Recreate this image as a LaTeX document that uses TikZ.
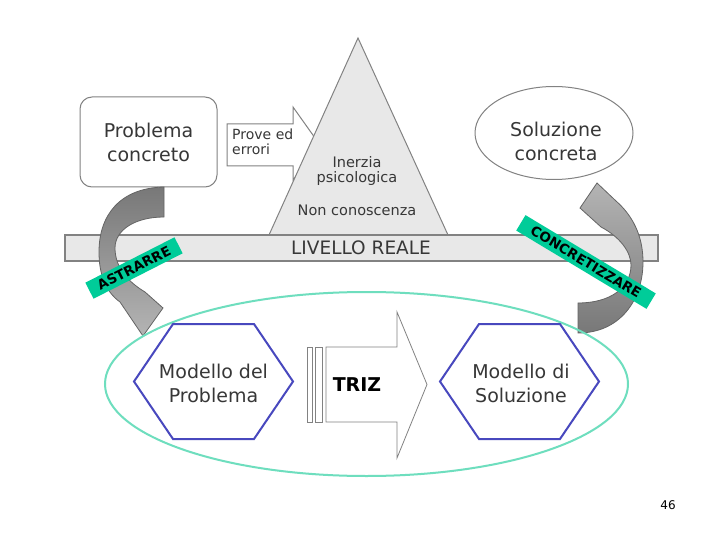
\documentclass[tikz,border=0pt]{standalone}
\usepackage{fontspec}
\setmainfont{DejaVu Sans}
\usetikzlibrary{shapes.geometric}
\definecolor{txt}{RGB}{55,55,55}
\definecolor{boxline}{RGB}{130,130,130}
\definecolor{lightfill}{RGB}{232,232,232}
\definecolor{labelgreen}{RGB}{0,204,153}
\definecolor{ellteal}{RGB}{110,222,190}
\definecolor{hexblue}{RGB}{72,72,190}
\definecolor{arrowdark}{RGB}{120,120,120}
\definecolor{arrowlight}{RGB}{180,180,180}
\definecolor{arrowline}{RGB}{100,100,100}
\begin{document}
\begin{tikzpicture}[x=1pt,y=-1pt,
  bigtext/.style={font=\fontsize{19}{24}\selectfont, text=txt, align=center, inner sep=0pt},
  midtext/.style={font=\fontsize{14.5}{15}\selectfont, text=txt, align=center, inner sep=0pt},
  greenlabel/.style={fill=labelgreen, font=\bfseries\fontsize{13.5}{14}\selectfont, text=black, inner sep=0pt, minimum height=18pt},
  hexline/.style={draw=hexblue, line width=2pt, fill=white, line join=miter},
  curvedarrow/.style={draw=arrowline, line width=0.8pt},
  grayshape/.style={draw=boxline, line width=1pt},
  thinshape/.style={draw=boxline, fill=white, line width=0.8pt}
]
\useasboundingbox[fill=white] (0,0) rectangle (720,540);

% Prove ed errori arrow
\draw[grayshape, fill=white] (227,124) -- (293,124) -- (293,107) -- (320,145) -- (293,180) -- (293,166) -- (227,166) -- cycle;
\node[anchor=north west, font=\fontsize{14}{15}\selectfont, text=txt, align=left, inner sep=0pt] (prove) at (232,129) {Prove ed\\errori};

% triangle
\draw[grayshape, fill=lightfill] (358,38) -- (448,235) -- (269,235) -- cycle;
\node[midtext] (inerzia) at (357,171) {Inerzia\\psicologica};
\node[midtext] (nonconosc) at (357,210) {Non conoscenza};

% level band
\draw[draw=boxline, fill=lightfill, line width=1.2pt] (65,235) rectangle (658,261);
\node[font=\fontsize{18.5}{20}\selectfont, text=txt, inner sep=0pt] (livello) at (361,248) {LIVELLO REALE};

% top boxes
\node[draw=boxline, fill=white, rounded corners=12pt, line width=1pt, minimum width=137pt, minimum height=90pt, bigtext] (problema) at (148.5,142) {Problema\\concreto};
\node[draw=boxline, fill=white, ellipse, minimum width=158pt, minimum height=93pt, line width=1pt] (soluzione) at (554,133) {};
\node[bigtext] (soluzionetext) at (556,141) {Soluzione\\concreta};

% curved arrows
\draw[curvedarrow, top color=arrowdark, bottom color=arrowlight]
  (164,187) .. controls (120,188) and (99,215) .. (99,252)
  .. controls (99,275) and (106,292) .. (120,302)
  -- (143,336) -- (163,308) -- (145,292)
  .. controls (125,280) and (115,265) .. (115,248)
  .. controls (115,230) and (135,217) .. (164,217) -- cycle;
\draw[curvedarrow, top color=arrowlight, bottom color=arrowdark]
  (578,303) -- (578,333)
  .. controls (620,333) and (643,300) .. (643,262)
  .. controls (643,235) and (632,215) .. (616,201)
  -- (597,183) -- (580,208) -- (601,227)
  .. controls (620,237) and (631,252) .. (631,265)
  .. controls (631,288) and (610,303) .. (578,303) -- cycle;

% labels
\node[greenlabel, minimum width=100pt, rotate=27] (astrarre) at (134,268) {ASTRARRE};
\node[greenlabel, minimum width=152pt, rotate=-31] (concretizzare) at (586,262) {CONCRETIZZARE};

% model level ellipse
\node[draw=ellteal, line width=2pt, ellipse, minimum width=523pt, minimum height=184pt, inner sep=0pt] (modellevel) at (366.5,384) {};

% hexagons
\draw[hexline] (134,381.5) -- (173,324) -- (254,324) -- (293,381.5) -- (254,439) -- (173,439) -- cycle;
\node[bigtext] (modprob) at (213.5,383) {Modello del\\Problema};
\draw[hexline] (440,381.5) -- (479,324) -- (560,324) -- (599,381.5) -- (560,439) -- (479,439) -- cycle;
\node[bigtext] (modsol) at (521,383) {Modello di\\Soluzione};

% TRIZ arrow
\draw[thinshape] (307,347) rectangle (312,422);
\draw[thinshape] (315,347) rectangle (322,422);
\draw[thinshape] (326,347) -- (397,347) -- (397,312) -- (427,384.5) -- (397,458) -- (397,422) -- (326,422) -- cycle;
\node[font=\bfseries\fontsize{19}{20}\selectfont, text=black, inner sep=0pt] (triz) at (357,385) {TRIZ};

% page number
\node[font=\fontsize{12}{14}\selectfont, inner sep=0pt] (pagenum) at (668,505) {46};
\end{tikzpicture}
\end{document}
